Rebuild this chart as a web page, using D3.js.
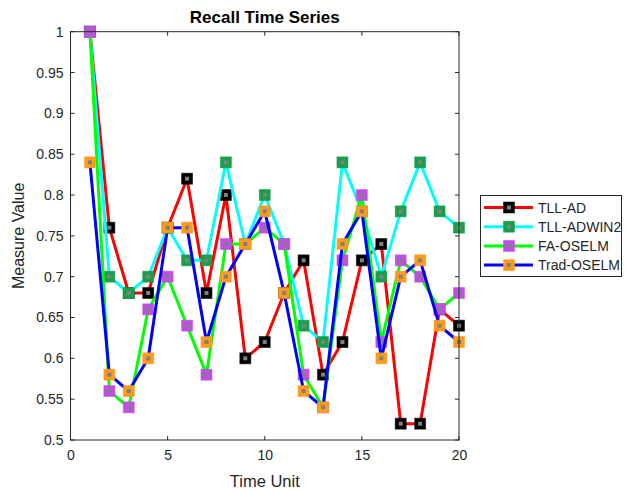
<!DOCTYPE html>
<html><head><meta charset="utf-8">
<script src="https://cdn.jsdelivr.net/npm/d3@7/dist/d3.min.js"></script>
<style>body{margin:0;background:#fff}svg{display:block}text{font-family:"Liberation Sans",Arial,sans-serif}</style>
</head><body>
<svg id="c" width="628" height="493"></svg>
<script>
const timeUnits = d3.range(1, 21);
const tllAD    = [1.00,0.76,0.68,0.68,0.76,0.82,0.68,0.80,0.60,0.62,0.68,0.72,0.58,0.62,0.72,0.74,0.52,0.52,0.66,0.64];
const tllADWIN = [1.00,0.70,0.68,0.70,0.76,0.72,0.72,0.84,0.74,0.80,0.74,0.64,0.62,0.84,0.78,0.70,0.78,0.84,0.78,0.76];
const faOSELM  = [1.00,0.56,0.54,0.66,0.70,0.64,0.58,0.74,0.74,0.76,0.74,0.58,0.54,0.72,0.80,0.62,0.72,0.70,0.66,0.68];
const tradOSELM= [0.84,0.58,0.56,0.60,0.76,0.76,0.62,0.70,0.74,0.78,0.68,0.56,0.54,0.74,0.78,0.60,0.70,0.72,0.64,0.62];
const seriesNames = ["TLL-AD","TLL-ADWIN2","FA-OSELM","Trad-OSELM"];
const xTicks = [0,5,10,15,20];
const yTicks = [0.5,0.55,0.6,0.65,0.7,0.75,0.8,0.85,0.9,0.95,1];

const series = [
  {name:seriesNames[0], values:tllAD,    line:"#ff0000", marker:"#000000"},
  {name:seriesNames[1], values:tllADWIN, line:"#00ffff", marker:"#16a04a"},
  {name:seriesNames[2], values:faOSELM,  line:"#00ff00", marker:"#c04ee6"},
  {name:seriesNames[3], values:tradOSELM,line:"#0000ff", marker:"#ff9a1a"}
];

const svg = d3.select("#c");
const L=70.5, R=459, T=31.7, B=440;
const x = d3.scaleLinear().domain([0,20]).range([L,R]);
const y = d3.scaleLinear().domain([0.5,1]).range([B,T]);
const txt = "#262626";

const g = svg.append("g");
const line = d3.line().x((d,i)=>x(timeUnits[i])).y(d=>y(d));
function marker(sel, color, cx, cy){
  sel.append("rect").attr("x",cx-5.5).attr("y",cy-5.5).attr("width",11).attr("height",11)
    .attr("fill",color).attr("stroke",color).attr("stroke-opacity",0.5).attr("stroke-width",1);
  sel.append("rect").attr("x",cx-2).attr("y",cy-2).attr("width",4).attr("height",4).attr("fill","#808080");
}
series.forEach(s=>{
  const sg = g.append("g");
  sg.append("path").attr("d",line(s.values)).attr("fill","none").attr("stroke",s.line).attr("stroke-width",3).attr("stroke-linejoin","round");
  s.values.forEach((v,i)=>marker(sg, s.marker, x(timeUnits[i]), y(v)));
});

const ax = svg.append("g").attr("font-size",14).attr("fill",txt);
ax.append("rect").attr("x",L).attr("y",T).attr("width",R-L).attr("height",B-T).attr("fill","none").attr("stroke",txt).attr("stroke-width",1);
const bottom = d3.axisBottom(x).tickValues(xTicks).tickSize(0).tickPadding(0);
xTicks.forEach(t=>{
  ax.append("line").attr("x1",x(t)).attr("x2",x(t)).attr("y1",B).attr("y2",B-4).attr("stroke",txt);
  ax.append("line").attr("x1",x(t)).attr("x2",x(t)).attr("y1",T).attr("y2",T+4).attr("stroke",txt);
});
yTicks.forEach(t=>{
  ax.append("line").attr("x1",L).attr("x2",L+4).attr("y1",y(t)).attr("y2",y(t)).attr("stroke",txt);
  ax.append("line").attr("x1",R).attr("x2",R-4).attr("y1",y(t)).attr("y2",y(t)).attr("stroke",txt);
});
const xa = svg.append("g").attr("transform",`translate(0,${B})`).call(bottom);
xa.select(".domain").remove();
xa.selectAll("text").attr("fill",txt).attr("font-size",14).attr("dy","1.45em").attr("font-family","Liberation Sans, Arial, sans-serif");
const left = d3.axisLeft(y).tickValues(yTicks).tickSize(0).tickPadding(7).tickFormat(d3.format("~g"));
const ya = svg.append("g").attr("transform",`translate(${L},0)`).call(left);
ya.select(".domain").remove();
ya.selectAll("text").attr("fill",txt).attr("font-size",14).attr("font-family","Liberation Sans, Arial, sans-serif");

svg.append("text").attr("x",(L+R)/2).attr("y",23).attr("text-anchor","middle").attr("font-size",17).attr("font-weight","bold").attr("fill","#000").text("Recall Time Series");
svg.append("text").attr("x",(L+R)/2).attr("y",487).attr("text-anchor","middle").attr("font-size",16.5).attr("fill",txt).text("Time Unit");
svg.append("text").attr("transform",`translate(24,${(T+B)/2}) rotate(-90)`).attr("text-anchor","middle").attr("font-size",16).attr("fill",txt).text("Measure Value");

const lg = svg.append("g");
lg.append("rect").attr("x",480.5).attr("y",195.5).attr("width",141).attr("height",81).attr("fill","#fff").attr("stroke",txt).attr("stroke-width",1);
series.forEach((s,i)=>{
  const yy = 207.5 + i*19.2;
  lg.append("line").attr("x1",484).attr("x2",533).attr("y1",yy).attr("y2",yy).attr("stroke",s.line).attr("stroke-width",3);
  marker(lg, s.marker, 509, yy);
  lg.append("text").attr("x",538).attr("y",yy+5).attr("font-size",14).attr("fill",txt).text(s.name);
});
</script>
</body></html>
